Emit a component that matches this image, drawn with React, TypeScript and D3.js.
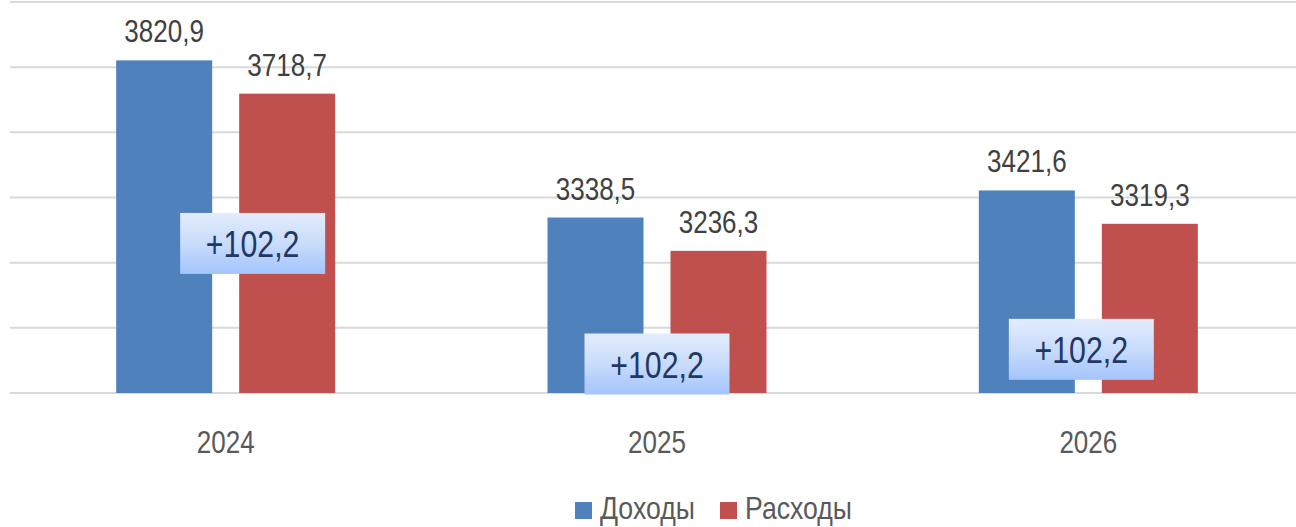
import { useRef, useEffect } from 'react';
import * as d3 from 'd3';

const WIDTH = 1296;
const HEIGHT = 527;
const FONT = "'Liberation Sans', Arial, sans-serif";
const NARROW = 0.84; // no Arial Narrow here, so squeeze Liberation Sans

const years = ['2024', '2025', '2026'];
const seriesNames = ['Доходы', 'Расходы'];
const seriesColors = ['#4f81bd', '#c0504d'];
const income = [3820.9, 3338.5, 3421.6];
const expenses = [3718.7, 3236.3, 3319.3];
const surplusLabels = ['+102,2', '+102,2', '+102,2'];
// where the surplus call-outs sit (value units on the y axis, px shift from group centre)
const surplusLevel = [3259, 2889, 2934];
const surplusShift = [27, 0, -7];
const gridTicks = [2800, 3000, 3200, 3400, 3600, 3800, 4000];

const fmt = (v: number) => v.toFixed(1).replace('.', ',');
const squeeze = (x: number, y: number, s = NARROW) => `translate(${x},${y}) scale(${s},1)`;

const App = () => {
  const svgRef = useRef<SVGSVGElement | null>(null);

  useEffect(() => {
    const root = d3.select(svgRef.current);
    root.selectAll('*').remove();

    const left = 10;
    const right = 1304;
    const top = 2;
    const bottom = 393;

    const x0 = d3
      .scaleBand()
      .domain(years)
      .range([left, right])
      .paddingInner(0.4923)
      .paddingOuter(0.4923 / 2);

    const x1 = d3
      .scaleBand()
      .domain(seriesNames)
      .range([0, x0.bandwidth()])
      .paddingInner(0.2195);

    const y = d3.scaleLinear().domain([2800, 4000]).range([bottom, top]);

    const defs = root.append('defs');
    const grad = defs
      .append('linearGradient')
      .attr('id', 'boxGrad')
      .attr('x1', 0)
      .attr('y1', 0)
      .attr('x2', 0)
      .attr('y2', 1);
    grad.append('stop').attr('offset', '0%').attr('stop-color', '#e3ecfc');
    grad.append('stop').attr('offset', '50%').attr('stop-color', '#c9dcfb');
    grad.append('stop').attr('offset', '100%').attr('stop-color', '#a3c4fb');

    // gridlines
    root
      .append('g')
      .selectAll('line')
      .data(gridTicks)
      .join('line')
      .attr('x1', left)
      .attr('x2', WIDTH)
      .attr('y1', (d) => y(d))
      .attr('y2', (d) => y(d))
      .attr('stroke', '#d9d9d9')
      .attr('stroke-width', 2);

    const rows = years.map((yr, i) => ({
      year: yr,
      values: [income[i], expenses[i]],
    }));

    const groups = root
      .append('g')
      .selectAll('g')
      .data(rows)
      .join('g')
      .attr('transform', (d) => `translate(${x0(d.year)},0)`);

    groups
      .selectAll('rect')
      .data((d) => d.values.map((v, k) => ({ v, k })))
      .join('rect')
      .attr('x', (d) => x1(seriesNames[d.k]) as number)
      .attr('y', (d) => y(d.v))
      .attr('width', x1.bandwidth())
      .attr('height', (d) => bottom - y(d.v))
      .attr('fill', (d) => seriesColors[d.k]);

    groups
      .selectAll('text.val')
      .data((d) => d.values.map((v, k) => ({ v, k })))
      .join('text')
      .attr('class', 'val')
      .attr('transform', (d) =>
        squeeze((x1(seriesNames[d.k]) as number) + x1.bandwidth() / 2, y(d.v) - 18)
      )
      .attr('text-anchor', 'middle')
      .attr('font-family', FONT)
      .attr('font-size', 31)
      .attr('fill', '#404040')
      .text((d) => fmt(d.v));

    // x axis labels
    root
      .append('g')
      .selectAll('text')
      .data(years)
      .join('text')
      .attr('transform', (d) => squeeze((x0(d) as number) + x0.bandwidth() / 2, 453))
      .attr('text-anchor', 'middle')
      .attr('font-family', FONT)
      .attr('font-size', 31)
      .attr('fill', '#595959')
      .text((d) => d);

    // surplus call-outs
    const boxW = 145;
    const boxH = 61;
    const callouts = root
      .append('g')
      .selectAll('g')
      .data(years)
      .join('g')
      .attr('transform', (d, i) => {
        const cx = (x0(d) as number) + x0.bandwidth() / 2 + surplusShift[i];
        const cy = y(surplusLevel[i]);
        return `translate(${cx},${cy})`;
      });
    callouts
      .append('rect')
      .attr('x', -boxW / 2)
      .attr('y', -boxH / 2)
      .attr('width', boxW)
      .attr('height', boxH)
      .attr('fill', 'url(#boxGrad)');
    callouts
      .append('text')
      .attr('transform', squeeze(0, 14, 0.82))
      .attr('text-anchor', 'middle')
      .attr('font-family', FONT)
      .attr('font-size', 37)
      .attr('fill', '#1f3864')
      .text((d, i) => surplusLabels[i]);

    // legend
    const legend = root.append('g');
    const legendX = [575, 720];
    seriesNames.forEach((name, k) => {
      legend
        .append('rect')
        .attr('x', legendX[k])
        .attr('y', 502)
        .attr('width', 17)
        .attr('height', 17)
        .attr('fill', seriesColors[k]);
      legend
        .append('text')
        .attr('transform', squeeze(legendX[k] + 25, 519, 0.86))
        .attr('font-family', FONT)
        .attr('font-size', 31)
        .attr('fill', '#595959')
        .text(name);
    });
  }, []);

  return (
    <svg
      ref={svgRef}
      width={WIDTH}
      height={HEIGHT}
      style={{ position: 'absolute', left: 0, top: 0, background: '#fff' }}
    />
  );
};

export default App;
